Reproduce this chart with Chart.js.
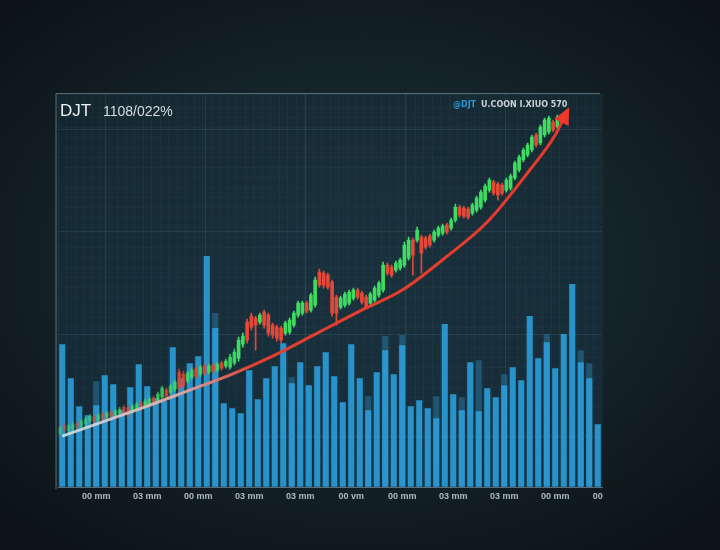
<!DOCTYPE html>
<html lang="en">
<head>
  <meta charset="UTF-8">
  <title>DJT</title>
  <script src="https://cdn.jsdelivr.net/npm/chart.js"></script>
  <style>
    html, body { margin: 0; padding: 0; }
    body {
      width: 720px; height: 550px; overflow: hidden;
      background: radial-gradient(ellipse 70% 65% at 50% 48%, #1a2b34 0%, #142229 55%, #0b1317 100%);
    }
    canvas { display: block; }
  </style>
</head>
<body>
  <canvas id="grafico" width="720" height="550"></canvas>

  <script>
    const titolo = 'DJT', sottotitolo = '1108/022%';
    const tag = '@DJT', info = 'U.COON I.XIUO 570';
    const tickLabels = ['00 mm', '03 mm', '00 mm', '03 mm', '03 mm', '00 vm', '00 mm', '03 mm', '03 mm', '00 mm', '00'];

    // volumi (milioni) - 64 barre
    const volume = [14.3, 10.9, 8.1, 7.2, 8.2, 11.2, 10.3, 7.7, 10.0, 12.3,
      10.1, 8.9, 8.6, 14.0, 10.9, 12.4, 13.1, 23.1, 15.9, 8.4,
      7.9, 7.4, 11.7, 8.8, 10.9, 12.1, 14.4, 10.4, 12.5, 10.2,
      12.1, 13.5, 11.1, 8.5, 14.3, 10.9, 7.7, 11.5, 13.7, 11.3,
      14.2, 8.1, 8.7, 7.9, 6.9, 16.3, 9.3, 7.7, 12.5, 7.6,
      9.9, 9.0, 10.2, 12.0, 10.7, 17.1, 12.9, 14.5, 11.9, 15.3,
      20.3, 12.5, 10.9, 6.3];
    const volumeOmbra = [null, null, null, null, 10.6, null, null, null, null, null,
      null, null, null, null, null, null, null, null, 17.4, null,
      null, null, null, null, null, null, null, 11.0, null, null,
      null, null, null, null, null, null, 9.1, null, 15.1, null,
      15.2, null, null, null, 9.1, null, null, 9.0, null, 12.7,
      null, null, 11.3, null, null, null, null, 15.3, null, null,
      null, 13.7, 12.4, null];

    // candele
    const apertura = [10.4, 11.2, 10.6, 10.8, 11.4, 11.1, 11.3, 11.6, 12.0, 11.7,
      12.3, 12.0, 12.5, 12.2, 12.4, 13.0, 12.9, 12.6, 12.8, 13.4,
      13.1, 13.3, 13.9, 13.7, 14.0, 14.7, 14.5, 14.8, 16.5, 16.3,
      15.6, 16.0, 16.9, 16.3, 17.1, 16.5, 17.2, 16.7, 17.4, 17.1,
      17.0, 17.4, 17.9, 19.3, 21.5, 22.1, 21.9, 21.5, 22.5, 22.2,
      21.2, 21.0, 20.9, 20.4, 20.5, 21.2, 22.2, 22.4, 23.4, 22.7,
      23.2, 26.5, 26.4, 26.2, 25.5, 24.0, 23.0, 23.2, 23.4, 23.9,
      24.7, 24.4, 24.0, 23.4, 23.7, 24.2, 24.7, 27.2, 27.0, 26.7,
      26.9, 27.2, 27.9, 29.7, 29.7, 30.0, 29.9, 30.1, 29.7, 30.2,
      30.4, 31.2, 30.9, 31.7, 33.0, 32.9, 32.8, 32.4, 32.7, 33.0,
      33.7, 34.7, 35.5, 35.3, 35.2, 34.7, 34.9, 35.9, 36.7, 37.7,
      38.2, 38.7, 40.2, 39.4, 40.2, 40.5, 41.5, 41.0];
    const chiusura = [10.9, 10.7, 11.1, 11.3, 11.0, 11.6, 11.8, 12.1, 11.6, 12.2,
      11.8, 12.4, 12.1, 12.6, 12.8, 12.3, 12.3, 13.1, 13.3, 12.9,
      13.6, 13.8, 13.4, 14.3, 14.9, 14.1, 15.1, 15.5, 14.9, 15.1,
      16.4, 16.7, 16.1, 17.0, 16.4, 17.1, 16.6, 17.3, 16.9, 17.6,
      18.0, 18.5, 19.7, 20.1, 19.7, 21.0, 21.2, 22.2, 21.2, 20.4,
      20.2, 19.9, 19.7, 21.4, 21.7, 22.4, 23.4, 23.4, 22.6, 24.2,
      25.7, 25.2, 25.2, 25.0, 22.4, 22.4, 23.9, 24.3, 24.5, 24.7,
      24.0, 23.5, 23.0, 24.3, 24.9, 25.4, 27.2, 26.4, 26.2, 27.4,
      27.7, 29.2, 29.7, 28.2, 30.7, 28.4, 29.0, 29.2, 30.5, 30.9,
      31.1, 30.5, 31.7, 33.0, 32.2, 32.1, 32.0, 33.2, 33.9, 34.5,
      35.1, 35.7, 34.4, 34.2, 34.4, 35.7, 36.1, 37.4, 38.0, 38.7,
      39.2, 40.0, 39.2, 41.0, 41.7, 41.9, 40.7, 42.0];
    const massimo = [11.1, 11.4, 11.3, 11.5, 11.6, 11.8, 12.0, 12.3, 12.2, 12.4,
      12.5, 12.6, 12.7, 12.8, 13.0, 13.2, 13.1, 13.3, 13.5, 13.6,
      13.8, 14.0, 14.1, 14.5, 15.1, 14.9, 15.3, 15.7, 16.8, 16.6,
      16.6, 16.9, 17.1, 17.2, 17.3, 17.3, 17.4, 17.5, 17.6, 17.8,
      18.3, 18.8, 20.0, 20.4, 21.8, 22.4, 22.1, 22.4, 22.7, 22.4,
      21.4, 21.2, 21.1, 21.6, 21.9, 22.6, 23.6, 23.6, 23.6, 24.4,
      26.0, 26.8, 26.6, 26.4, 25.7, 24.2, 24.1, 24.5, 24.7, 24.9,
      24.9, 24.6, 24.2, 24.5, 25.1, 25.6, 27.5, 27.4, 27.2, 27.6,
      27.9, 29.5, 30.0, 29.9, 31.0, 30.2, 30.1, 30.3, 30.7, 31.1,
      31.3, 31.4, 31.9, 33.3, 33.2, 33.1, 33.0, 33.4, 34.1, 34.7,
      35.3, 35.9, 35.7, 35.5, 35.4, 35.9, 36.3, 37.6, 38.2, 38.9,
      39.4, 40.2, 40.4, 41.2, 41.9, 42.1, 41.7, 42.2];
    const minimo = [10.2, 10.5, 10.4, 10.6, 10.8, 10.9, 11.1, 11.4, 11.4, 11.5,
      11.6, 11.8, 11.9, 12.0, 12.2, 12.1, 12.0, 12.4, 12.6, 12.7,
      12.9, 13.1, 13.2, 13.5, 13.8, 13.9, 14.3, 14.6, 14.6, 14.9,
      15.4, 15.8, 15.9, 16.1, 16.2, 16.3, 16.4, 16.5, 16.7, 16.9,
      16.8, 17.2, 17.6, 19.0, 19.4, 20.7, 18.7, 21.3, 20.9, 20.1,
      19.9, 19.6, 19.4, 20.2, 20.3, 21.0, 22.0, 22.2, 22.4, 22.5,
      23.0, 25.0, 24.9, 24.8, 22.1, 21.2, 22.8, 23.0, 23.2, 23.7,
      23.8, 23.3, 22.8, 23.2, 23.5, 24.0, 24.5, 26.2, 26.0, 26.5,
      26.7, 27.0, 27.7, 26.2, 29.5, 26.4, 28.8, 29.0, 29.5, 30.0,
      30.2, 30.3, 30.7, 31.5, 32.0, 31.9, 31.8, 32.2, 32.5, 32.8,
      33.5, 34.5, 34.2, 33.7, 34.2, 34.5, 34.7, 35.7, 36.5, 37.5,
      38.0, 38.5, 39.0, 39.2, 40.0, 40.3, 40.5, 40.8];

    // linea di tendenza (indice barra, prezzo)
    const trendX = [0, 5, 10, 15, 20, 25, 30, 35, 40, 45, 50, 55, 58, 59];
    const trendY = [10.1, 11.6, 13.1, 14.7, 16.3, 18.2, 20.4, 22.6, 24.7, 27.9, 31.5, 36.7, 40.2, 41.9];

    const etichette = volume.map((_, i) => {
      if (i === volume.length - 1) return tickLabels[tickLabels.length - 1];
      return (i - 4) % 6 === 0 && i >= 4 ? (tickLabels[(i - 4) / 6] || '') : '';
    });
    const slotCandele = Array(128).fill('');

    const colore = (i, a) => (chiusura[i] >= apertura[i] ? `rgba(63,220,98,${a})` : `rgba(228,72,56,${a})`);
    const alfa = i => (i < 42 ? 0.4 + i * 0.012 : 1);

    const sfondo = {
      id: 'sfondo',
      beforeDraw(chart) {
        const { ctx, chartArea: a } = chart;
        const g = ctx.createLinearGradient(0, a.top, 0, a.bottom);
        g.addColorStop(0, 'rgba(28,58,72,0.35)');
        g.addColorStop(1, 'rgba(24,60,80,0.45)');
        ctx.save();
        ctx.fillStyle = g;
        ctx.fillRect(a.left - 2, a.top, a.right - a.left + 2, a.bottom - a.top);
        ctx.restore();
      },
      afterDraw(chart) {
        const { ctx, chartArea: a } = chart;
        ctx.save();
        ctx.strokeStyle = 'rgba(150,172,182,0.55)';
        ctx.lineWidth = 1;
        ctx.beginPath();
        ctx.moveTo(a.left - 2, a.bottom + 2);
        ctx.lineTo(a.left - 2, a.top - 0.5);
        ctx.lineTo(a.right - 2, a.top - 0.5);
        ctx.stroke();
        // testi
        ctx.textBaseline = 'alphabetic';
        ctx.fillStyle = '#eef3f5';
        ctx.font = '17px "Liberation Sans"';
        ctx.fillText(titolo, a.left + 2, 116);
        ctx.fillStyle = '#d6dee3';
        ctx.font = '14px "Liberation Sans"';
        ctx.fillText(sottotitolo, a.left + 45, 116);
        ctx.font = 'bold 8px "DejaVu Sans"';
        ctx.fillStyle = '#2f93d4';
        ctx.fillText(tag, 453, 107);
        ctx.fillStyle = '#c9d3d8';
        ctx.fillText(info, 481, 107);
        ctx.restore();
      }
    };

    const freccia = {
      id: 'freccia',
      afterDatasetsDraw(chart) {
        const meta = chart.getDatasetMeta(4);
        const p = meta.data;
        if (p.length < 2) return;
        const a = p[p.length - 2], b = p[p.length - 1];
        const ang = Math.atan2(b.y - a.y, b.x - a.x);
        const lung = 17, larg = 8;
        const tx = b.x + Math.cos(ang) * 12, ty = b.y + Math.sin(ang) * 12;
        const { ctx } = chart;
        ctx.save();
        ctx.fillStyle = '#e8392a';
        ctx.beginPath();
        ctx.moveTo(tx, ty);
        ctx.lineTo(tx - Math.cos(ang) * lung - Math.sin(ang) * larg, ty - Math.sin(ang) * lung + Math.cos(ang) * larg);
        ctx.lineTo(tx - Math.cos(ang) * lung + Math.sin(ang) * larg, ty - Math.sin(ang) * lung - Math.cos(ang) * larg);
        ctx.closePath();
        ctx.fill();
        ctx.restore();
      }
    };

    const gradienteLinea = context => {
      const { chart } = context;
      const a = chart.chartArea;
      if (!a) return '#e63a2b';
      const g = chart.ctx.createLinearGradient(a.left, 0, a.right, 0);
      g.addColorStop(0, 'rgba(215,232,236,0.85)');
      g.addColorStop(0.22, 'rgba(232,175,168,0.9)');
      g.addColorStop(0.36, '#e2402f');
      g.addColorStop(1, '#e8392a');
      return g;
    };

    const ctx = document.getElementById('grafico').getContext('2d');
    const grafico = new Chart(ctx, {
      data: {
        labels: etichette,
        datasets: [
          {
            type: 'bar', label: 'Volume ombra', data: volumeOmbra, xAxisID: 'x', yAxisID: 'yv',
            backgroundColor: 'rgba(42,118,160,0.55)', barPercentage: 0.72, categoryPercentage: 1,
            grouped: false, order: 5
          },
          {
            type: 'bar', label: 'Volume', data: volume, xAxisID: 'x', yAxisID: 'yv',
            backgroundColor: 'rgba(43,155,214,0.93)', barPercentage: 0.72, categoryPercentage: 1,
            grouped: false, order: 4
          },
          {
            type: 'bar', label: 'Stoppini', data: minimo.map((l, i) => [l, massimo[i]]),
            xAxisID: 'xc', yAxisID: 'yp', barThickness: 1, grouped: false, order: 3,
            backgroundColor: c => colore(c.dataIndex, alfa(c.dataIndex))
          },
          {
            type: 'bar', label: 'Candele', data: apertura.map((o, i) => [o, chiusura[i]]),
            xAxisID: 'xc', yAxisID: 'yp', barThickness: 3, grouped: false, order: 2,
            backgroundColor: c => colore(c.dataIndex, alfa(c.dataIndex))
          },
          {
            type: 'line', label: 'Tendenza', data: trendX.map((x, i) => ({ x, y: trendY[i] })),
            xAxisID: 'xt', yAxisID: 'yp', borderColor: gradienteLinea, borderWidth: 3,
            pointRadius: 0, cubicInterpolationMode: 'monotone', fill: false, order: 1
          }
        ]
      },
      options: {
        responsive: false,
        animation: false,
        layout: { padding: { left: 58, right: 118, top: 94, bottom: 44 } },
        plugins: { legend: { display: false }, tooltip: { enabled: false } },
        scales: {
          x: {
            type: 'category', offset: true,
            grid: { color: 'rgba(120,170,195,0.05)', drawTicks: false },
            border: { color: 'rgba(150,172,182,0.55)' },
            ticks: { autoSkip: false, maxRotation: 0, padding: 4, color: '#aebac1', font: { family: 'Liberation Sans', size: 9, weight: 'bold' } }
          },
          xc: { type: 'category', labels: slotCandele, offset: true, display: false },
          xt: { type: 'linear', min: -0.5, max: 63.5, display: false },
          xg: {
            type: 'linear', position: 'top', min: -0.47, max: 4.97,
            afterBuildTicks: ax => { ax.ticks = [0, 1, 2, 3, 4].map(v => ({ value: v })); },
            grid: { color: 'rgba(110,160,185,0.16)', drawTicks: false },
            border: { display: false }, ticks: { display: false }
          },
          yv: {
            type: 'linear', position: 'left', min: 0, max: 39.3,
            grid: { color: 'rgba(110,160,185,0.045)', drawTicks: false },
            border: { display: false }, ticks: { display: false, stepSize: 1 }
          },
          yg: {
            type: 'linear', position: 'left', min: -0.5, max: 3.35,
            afterBuildTicks: ax => { ax.ticks = [0, 1, 2, 3].map(v => ({ value: v })); },
            grid: { color: 'rgba(110,160,185,0.16)', drawTicks: false },
            border: { display: false }, ticks: { display: false }
          },
          yp: { type: 'linear', position: 'left', min: 5, max: 44.3, display: false }
        }
      },
      plugins: [sfondo, freccia]
    });
  </script>
</body>
</html>
